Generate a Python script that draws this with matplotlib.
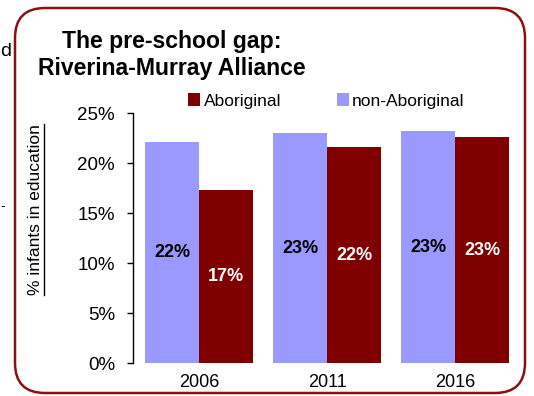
import matplotlib.pyplot as plt
import numpy as np
from matplotlib.patches import FancyBboxPatch
from matplotlib.lines import Line2D
from matplotlib.ticker import FuncFormatter

plt.rcParams['font.family'] = ['Liberation Sans', 'DejaVu Sans']

years = ['2006', '2011', '2016']
non_aboriginal = [22.1, 23.0, 23.2]
aboriginal = [17.3, 21.6, 22.6]

lavender = '#9999ff'
maroon = '#800000'

fig = plt.figure(figsize=(5.34, 3.96), dpi=100)
ax = fig.add_axes([0.249, 0.0833, 0.727, 0.6313])

x = np.arange(len(years))
w = 0.42
b1 = ax.bar(x - w / 2, non_aboriginal, w, color=lavender, label='non-Aboriginal')
b2 = ax.bar(x + w / 2, aboriginal, w, color=maroon, label='Aboriginal')

for bars, vals, col in [(b1, non_aboriginal, 'black'), (b2, aboriginal, 'white')]:
    for bar, v in zip(bars, vals):
        ax.text(bar.get_x() + bar.get_width() / 2, v / 2, f'{round(v)}%',
                ha='center', va='center', color=col, fontsize=13, fontweight='bold')

ax.set_xlim(-0.515, 2.515)
ax.set_ylim(0, 25)
ax.set_yticks(range(0, 26, 5))
ax.yaxis.set_major_formatter(FuncFormatter(lambda v, p: f'{v:.0f}%'))
ax.set_xticks(x)
ax.set_xticklabels(years)
ax.tick_params(axis='y', length=4, width=1, pad=9, labelsize=13.5)
ax.tick_params(axis='x', length=0, pad=8, labelsize=13)
for s in ['top', 'right', 'bottom']:
    ax.spines[s].set_visible(False)
ax.spines['left'].set_linewidth(1)

# legend, Aboriginal listed first
fig.legend(handles=[b2, b1], labels=['Aboriginal', 'non-Aboriginal'],
           loc='center left', bbox_to_anchor=(0.352, 0.745), ncol=2, frameon=False,
           handlelength=0.7, handleheight=0.7, handletextpad=0.2,
           columnspacing=3.2, borderaxespad=0, borderpad=0,
           prop={'size': 12.5})

fig.text(0.322, 0.861, 'The pre-school gap:\nRiverina-Murray Alliance', ha='center',
         va='center', multialignment='center', fontsize=16.6, fontweight='bold',
         linespacing=1.2)

ylab = fig.text(0.066, 0.47, '% infants in education', rotation=90, ha='center',
                va='center', fontsize=12.5)

# underline for the rotated axis title
fig.canvas.draw()
bb = ylab.get_window_extent().transformed(fig.transFigure.inverted())
fig.add_artist(Line2D([bb.x1 + 0.002, bb.x1 + 0.002], [bb.y0, bb.y1],
                      transform=fig.transFigure, color='black', lw=1))

# rounded outer frame
frame = FancyBboxPatch((0.15, 0.03), 5.10, 3.85,
                       boxstyle='round,pad=0,rounding_size=0.3',
                       transform=fig.dpi_scale_trans, facecolor='none',
                       edgecolor='#8b1010', lw=1.8)
fig.add_artist(frame)

# fragments of neighbouring slide text
fig.text(0.0, 0.87, 'd', fontsize=14, ha='left', va='center')
fig.text(0.0, 0.48, '-', fontsize=10, ha='left', va='center')

fig.savefig('out.png', dpi=100)
